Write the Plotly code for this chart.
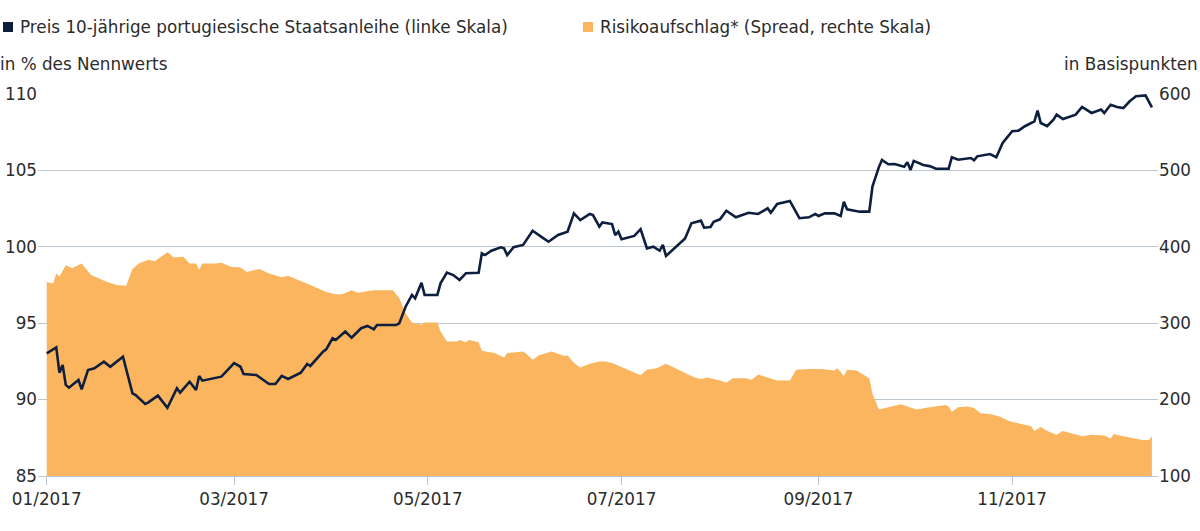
import plotly.graph_objects as go

# ---- Data -------------------------------------------------------------
price_dates = [
    "2017-01-01", "2017-01-04", "2017-01-05", "2017-01-06", "2017-01-07", "2017-01-08",
    "2017-01-11", "2017-01-12", "2017-01-14", "2017-01-16", "2017-01-19", "2017-01-21",
    "2017-01-25", "2017-01-28", "2017-01-29", "2017-02-01", "2017-02-02", "2017-02-05",
    "2017-02-08", "2017-02-11", "2017-02-12", "2017-02-15", "2017-02-17", "2017-02-18",
    "2017-02-19", "2017-02-23", "2017-02-25", "2017-03-01", "2017-03-03", "2017-03-04",
    "2017-03-08", "2017-03-12", "2017-03-14", "2017-03-16", "2017-03-18", "2017-03-22",
    "2017-03-24", "2017-03-25", "2017-03-29", "2017-03-30", "2017-04-01", "2017-04-02",
    "2017-04-05", "2017-04-07", "2017-04-10", "2017-04-12", "2017-04-14", "2017-04-15",
    "2017-04-21", "2017-04-22", "2017-04-24", "2017-04-26", "2017-04-27", "2017-04-29",
    "2017-04-30", "2017-05-04", "2017-05-05", "2017-05-07", "2017-05-09", "2017-05-11",
    "2017-05-13", "2017-05-17", "2017-05-18", "2017-05-19", "2017-05-21", "2017-05-24",
    "2017-05-25", "2017-05-26", "2017-05-28", "2017-05-31", "2017-06-03", "2017-06-06",
    "2017-06-08", "2017-06-11", "2017-06-14", "2017-06-16", "2017-06-18", "2017-06-21",
    "2017-06-22", "2017-06-24", "2017-06-25", "2017-06-28", "2017-06-29", "2017-06-30",
    "2017-07-01", "2017-07-05", "2017-07-07", "2017-07-09", "2017-07-11", "2017-07-13",
    "2017-07-14", "2017-07-15", "2017-07-17", "2017-07-20", "2017-07-21", "2017-07-23",
    "2017-07-26", "2017-07-27", "2017-07-29", "2017-07-30", "2017-08-01", "2017-08-03",
    "2017-08-06", "2017-08-10", "2017-08-13", "2017-08-16", "2017-08-17", "2017-08-19",
    "2017-08-23", "2017-08-26", "2017-08-29", "2017-08-31", "2017-09-01", "2017-09-03",
    "2017-09-06", "2017-09-08", "2017-09-09", "2017-09-10", "2017-09-14", "2017-09-17",
    "2017-09-18", "2017-09-20", "2017-09-21", "2017-09-23", "2017-09-25", "2017-09-28",
    "2017-09-29", "2017-09-30", "2017-10-01", "2017-10-04", "2017-10-06", "2017-10-08",
    "2017-10-12", "2017-10-13", "2017-10-15", "2017-10-19", "2017-10-20", "2017-10-21",
    "2017-10-25", "2017-10-27", "2017-10-29", "2017-11-01", "2017-11-03", "2017-11-05",
    "2017-11-08", "2017-11-09", "2017-11-10", "2017-11-12", "2017-11-14", "2017-11-15",
    "2017-11-17", "2017-11-21", "2017-11-23", "2017-11-26", "2017-11-29", "2017-11-30",
    "2017-12-02", "2017-12-04", "2017-12-06", "2017-12-08", "2017-12-10", "2017-12-13",
    "2017-12-15",
]
price_values = [
    93.03, 93.42, 91.76, 92.27, 90.96, 90.78,
    91.28, 90.67, 91.94, 92.05, 92.48, 92.15,
    92.81, 90.41, 90.30, 89.71, 89.82, 90.26,
    89.47, 90.74, 90.45, 91.17, 90.63, 91.55,
    91.24, 91.39, 91.50, 92.38, 92.15, 91.68,
    91.61, 91.02, 91.02, 91.55, 91.35, 91.76,
    92.33, 92.20, 93.14, 93.29, 94.01, 93.90,
    94.45, 94.05, 94.67, 94.82, 94.60, 94.88,
    94.88, 94.99, 96.08, 96.85, 96.63, 97.65,
    96.85, 96.85, 97.61, 98.31, 98.15, 97.83,
    98.27, 98.30, 99.57, 99.46, 99.74, 99.97,
    99.90, 99.46, 99.97, 100.12, 101.05, 100.62,
    100.33, 100.77, 100.99, 102.19, 101.75, 102.15,
    102.08, 101.32, 101.60, 101.49, 100.77, 100.99,
    100.49, 100.71, 101.15, 99.90, 100.01, 99.74,
    100.12, 99.40, 99.79, 100.33, 100.55, 101.54,
    101.71, 101.25, 101.30, 101.64, 101.80, 102.36,
    101.93, 102.23, 102.15, 102.52, 102.23, 102.80,
    103.00, 101.87, 101.93, 102.15, 102.02, 102.19,
    102.19, 102.02, 102.95, 102.45, 102.30, 102.30,
    103.94, 105.20, 105.68, 105.40, 105.42, 105.24,
    105.53, 105.03, 105.62, 105.35, 105.28, 105.11,
    105.11, 105.86, 105.70, 105.81, 105.66, 105.92,
    106.07, 105.86, 106.79, 107.56, 107.60, 107.89,
    108.21, 108.91, 108.10, 107.89, 108.32, 108.65,
    108.36, 108.65, 109.15, 108.76, 108.98, 108.76,
    109.30, 109.15, 109.08, 109.52, 109.85, 109.91,
    109.13,
]

spread_dates = [
    "2017-01-01", "2017-01-03", "2017-01-04", "2017-01-05", "2017-01-07", "2017-01-09",
    "2017-01-12", "2017-01-15", "2017-01-20", "2017-01-23", "2017-01-26", "2017-01-28",
    "2017-01-30", "2017-02-02", "2017-02-04", "2017-02-06", "2017-02-08", "2017-02-10",
    "2017-02-13", "2017-02-15", "2017-02-17", "2017-02-18", "2017-02-19", "2017-02-23",
    "2017-02-25", "2017-02-28", "2017-03-03", "2017-03-05", "2017-03-09", "2017-03-12",
    "2017-03-16", "2017-03-18", "2017-03-23", "2017-03-25", "2017-03-30", "2017-04-02",
    "2017-04-04", "2017-04-07", "2017-04-09", "2017-04-14", "2017-04-20", "2017-04-22",
    "2017-04-24", "2017-04-26", "2017-04-29", "2017-04-30", "2017-05-04", "2017-05-05",
    "2017-05-07", "2017-05-10", "2017-05-11", "2017-05-13", "2017-05-14", "2017-05-17",
    "2017-05-18", "2017-05-22", "2017-05-25", "2017-05-26", "2017-05-31", "2017-06-01",
    "2017-06-03", "2017-06-05", "2017-06-09", "2017-06-13", "2017-06-14", "2017-06-16",
    "2017-06-18", "2017-06-21", "2017-06-24", "2017-06-26", "2017-06-28", "2017-07-01",
    "2017-07-04", "2017-07-07", "2017-07-09", "2017-07-12", "2017-07-15", "2017-07-18",
    "2017-07-21", "2017-07-24", "2017-07-26", "2017-07-28", "2017-08-01", "2017-08-03",
    "2017-08-05", "2017-08-09", "2017-08-11", "2017-08-13", "2017-08-16", "2017-08-19",
    "2017-08-23", "2017-08-25", "2017-08-29", "2017-09-02", "2017-09-06", "2017-09-07",
    "2017-09-09", "2017-09-10", "2017-09-13", "2017-09-16", "2017-09-17", "2017-09-18",
    "2017-09-20", "2017-09-23", "2017-09-27", "2017-09-29", "2017-10-02", "2017-10-06",
    "2017-10-11", "2017-10-12", "2017-10-13", "2017-10-15", "2017-10-18", "2017-10-20",
    "2017-10-22", "2017-10-25", "2017-10-28", "2017-10-31", "2017-11-04", "2017-11-07",
    "2017-11-08", "2017-11-10", "2017-11-12", "2017-11-15", "2017-11-17", "2017-11-20",
    "2017-11-23", "2017-11-26", "2017-11-30", "2017-12-02", "2017-12-03", "2017-12-06",
    "2017-12-09", "2017-12-12", "2017-12-14", "2017-12-15",
]
spread_values = [
    354, 352, 365, 361, 376, 372,
    378, 363, 354, 350, 349, 371,
    378, 383, 381, 387, 393, 386,
    387, 378, 378, 370, 378, 378,
    379, 374, 373, 367, 371, 365,
    360, 362, 354, 350, 341, 338,
    338, 343, 340, 343, 343, 333,
    313, 301, 298, 301, 301, 289,
    276, 276, 278, 275, 278, 275,
    264, 261, 255, 261, 263, 260,
    252, 258, 263, 257, 258, 248,
    242, 247, 250, 250, 248, 243,
    238, 232, 239, 241, 247, 241,
    234, 229, 227, 229, 225, 222,
    228, 228, 226, 233, 229, 225,
    225, 239, 240, 240, 238, 241,
    231, 239, 238, 231, 228, 208,
    187, 190, 194, 191, 187, 190,
    193, 191, 184, 190, 191, 189,
    182, 181, 178, 172, 168, 165,
    159, 164, 159, 154, 159, 156,
    152, 154, 153, 149, 155, 152,
    149, 147, 147, 152,
]

left_ticks = [85, 90, 95, 100, 105, 110]
right_ticks = [100, 200, 300, 400, 500, 600]
x_tick_dates = ["2017-01-01", "2017-03-01", "2017-05-01", "2017-07-01", "2017-09-01", "2017-11-01"]
x_tick_labels = ["01/2017", "03/2017", "05/2017", "07/2017", "09/2017", "11/2017"]

legend_price = "Preis 10-jährige portugiesische Staatsanleihe (linke Skala)"
legend_spread = "Risikoaufschlag* (Spread, rechte Skala)"
left_unit = "in % des Nennwerts"
right_unit = "in Basispunkten"

# ---- Style --------------------------------------------------------------
NAVY = "#0e1e3e"
ORANGE = "#fbb55e"
GRID = "#bcc6ce"
TEXT = "#2b2b2b"
FONT = "DejaVu Sans, Liberation Sans, sans-serif"
FS = 16.8

W, H = 1200, 531
L, R, T, B = 38, 42, 94, 55
PW, PH = W - L - R, H - T - B


def xp(px):
    return (px - L) / PW


def yp(py):
    return (H - B - py) / PH


fig = go.Figure()
# spread area on the primary (right-hand) axis so that the price line,
# on the overlaying left-hand axis, is drawn on top of it
fig.add_trace(go.Scatter(
    x=spread_dates, y=spread_values, yaxis="y", mode="lines",
    line=dict(color=ORANGE, width=0), fill="tozeroy", fillcolor=ORANGE,
    name=legend_spread, showlegend=False, hoverinfo="skip",
))
fig.add_trace(go.Scatter(
    x=price_dates, y=price_values, yaxis="y2", mode="lines",
    line=dict(color=NAVY, width=2.6), name=legend_price, showlegend=False,
))

fig.update_layout(
    width=W, height=H,
    margin=dict(l=L, r=R, t=T, b=B, autoexpand=False),
    paper_bgcolor="white", plot_bgcolor="white",
    font=dict(family=FONT, size=FS, color=TEXT),
    xaxis=dict(
        type="date", automargin=False,
        range=["2016-12-29 06:00", "2017-12-16 22:00"],
        tickvals=x_tick_dates, ticktext=x_tick_labels,
        ticks="outside", ticklen=8, tickcolor=GRID, tickwidth=1,
        showgrid=False, showline=True, linecolor=GRID, linewidth=1,
        zeroline=False, tickfont=dict(size=FS, color=TEXT),
    ),
    yaxis=dict(
        automargin=False,
        range=[100, 600], tickvals=right_ticks, side="right",
        showgrid=True, gridcolor=GRID, gridwidth=1,
        zeroline=False, showline=False, ticks="",
        tickfont=dict(size=FS, color=TEXT),
    ),
    yaxis2=dict(
        automargin=False,
        range=[85, 110], tickvals=left_ticks, overlaying="y", side="left",
        showgrid=False, zeroline=False, showline=False, ticks="",
        tickfont=dict(size=FS, color=TEXT),
    ),
)

# legend-like header built from text + colour squares
fig.add_shape(type="rect", xref="paper", yref="paper",
              x0=xp(3), x1=xp(13), y0=yp(32), y1=yp(22),
              fillcolor=NAVY, line=dict(width=0))
fig.add_shape(type="rect", xref="paper", yref="paper",
              x0=xp(583), x1=xp(593), y0=yp(32), y1=yp(22),
              fillcolor=ORANGE, line=dict(width=0))
fig.add_annotation(xref="paper", yref="paper", x=xp(18), y=yp(27),
                   text=legend_price, showarrow=False,
                   xanchor="left", yanchor="middle", font=dict(size=FS, color=TEXT))
fig.add_annotation(xref="paper", yref="paper", x=xp(598), y=yp(27),
                   text=legend_spread, showarrow=False,
                   xanchor="left", yanchor="middle", font=dict(size=FS, color=TEXT))
fig.add_annotation(xref="paper", yref="paper", x=xp(-2), y=yp(64),
                   text=left_unit, showarrow=False,
                   xanchor="left", yanchor="middle", font=dict(size=FS, color=TEXT))
fig.add_annotation(xref="paper", yref="paper", x=xp(1200), y=yp(64),
                   text=right_unit, showarrow=False,
                   xanchor="right", yanchor="middle", font=dict(size=FS, color=TEXT))

fig.write_html("out.html")
